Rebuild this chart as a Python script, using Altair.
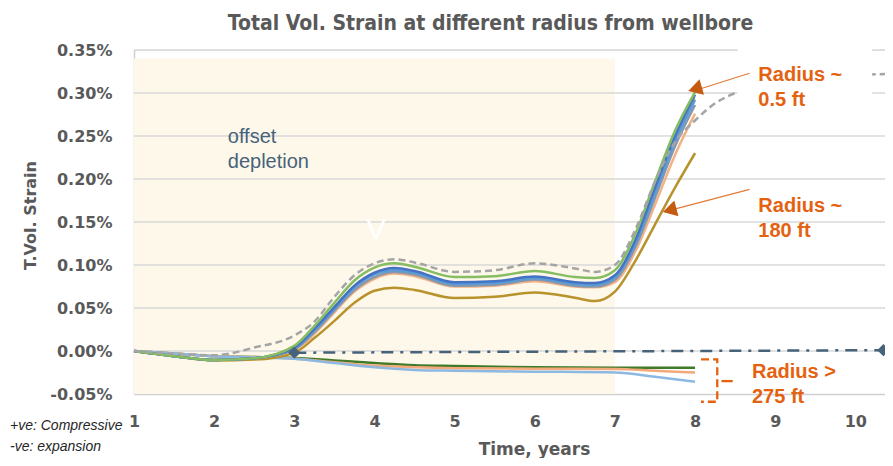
import altair as alt
import pandas as pd

# ---------------- data (values in %) ----------------
t_near = [1, 1.5, 2, 2.5, 3, 3.25, 3.5, 3.75, 4, 4.25, 4.5, 5, 5.5, 6, 6.5, 6.75, 7, 7.25, 7.5, 7.75, 8]
near_green = [0, -0.006, -0.0105, -0.0085, 0.006, 0.029, 0.056, 0.082, 0.097, 0.102, 0.098, 0.086, 0.087, 0.093, 0.086, 0.085, 0.094, 0.135, 0.197, 0.256, 0.301]
near_blue = [0, -0.006, -0.0105, -0.0085, 0.004, 0.026, 0.051, 0.076, 0.091, 0.0965, 0.093, 0.080, 0.081, 0.0865, 0.080, 0.079, 0.088, 0.128, 0.190, 0.250, 0.298]
near_steel = [0, -0.006, -0.0105, -0.0085, 0.003, 0.024, 0.049, 0.074, 0.089, 0.094, 0.091, 0.078, 0.079, 0.0845, 0.078, 0.077, 0.086, 0.124, 0.184, 0.244, 0.292]
near_slate = [0, -0.006, -0.0105, -0.0085, 0.002, 0.022, 0.047, 0.071, 0.086, 0.092, 0.089, 0.076, 0.077, 0.083, 0.076, 0.075, 0.083, 0.120, 0.178, 0.238, 0.286]
near_orange = [0, -0.006, -0.0105, -0.0085, 0.001, 0.020, 0.045, 0.069, 0.084, 0.090, 0.087, 0.075, 0.076, 0.081, 0.075, 0.074, 0.080, 0.115, 0.170, 0.228, 0.276]
near_gold = [0, -0.006, -0.0105, -0.0085, 0.003, 0.024, 0.049, 0.074, 0.089, 0.094, 0.091, 0.078, 0.079, 0.085, 0.078, 0.077, 0.086, 0.124, 0.185, 0.245, 0.294]
r180_gold = [0, -0.006, -0.011, -0.010, -0.002, 0.015, 0.035, 0.056, 0.070, 0.0735, 0.071, 0.0616, 0.063, 0.068, 0.062, 0.058, 0.069, 0.104, 0.147, 0.190, 0.230]

t_dash = [1, 1.5, 2, 2.5, 3, 3.25, 3.5, 3.75, 4, 4.25, 4.5, 5, 5.5, 6, 6.5, 6.75, 7, 7.25, 7.5, 7.75, 8, 8.25, 8.5, 9, 9.5, 10, 10.37]
dashed_gray = [0, -0.003, -0.005, 0.004, 0.018, 0.034, 0.063, 0.088, 0.102, 0.1066, 0.103, 0.092, 0.094, 0.102, 0.096, 0.092, 0.100, 0.140, 0.197, 0.243, 0.268, 0.288, 0.300, 0.312, 0.318, 0.321, 0.322]

t_far = [1, 1.5, 2, 2.5, 3, 3.5, 4, 4.5, 5, 6, 7, 7.5, 8]
far_green = [0, -0.003, -0.006, -0.007, -0.008, -0.011, -0.014, -0.0165, -0.0175, -0.019, -0.0195, -0.0195, -0.0194]
far_orange = [0, -0.003, -0.006, -0.007, -0.009, -0.013, -0.017, -0.019, -0.020, -0.0205, -0.021, -0.023, -0.025]
far_blue = [0, -0.003, -0.006, -0.0075, -0.009, -0.014, -0.019, -0.022, -0.023, -0.024, -0.025, -0.030, -0.0357]

ref_t = [3, 10.35]
ref_v = [-0.002, 0.001]

x_ticks = [1, 2, 3, 4, 5, 6, 7, 8, 9, 10]
y_ticks = [-0.05, 0.0, 0.05, 0.10, 0.15, 0.20, 0.25, 0.30, 0.35]
grid_vals = [0.0, 0.05, 0.10, 0.15, 0.20, 0.25, 0.30, 0.35]
shade_t = [1, 7]
shade_v = [-0.05, 0.34]

# ---------------- tables ----------------
series_names = ["fgreen", "forange", "fblue", "r180", "orange", "slate", "gold", "steel", "blue", "green"]
series_colors = ["#3F7A2A", "#F4A97A", "#8DB8E2", "#B8922A", "#F4B183", "#8497B0", "#E8B730", "#5B9BD5", "#4472C4", "#86BC62"]
series_widths = [2.5, 2.5, 2.5, 2.5, 2.5, 2.5, 1.3, 2.5, 2.5, 2.5]
series_t = [t_far, t_far, t_far, t_near, t_near, t_near, t_near, t_near, t_near, t_near]
series_vals = [far_green, far_orange, far_blue, r180_gold, near_orange, near_slate, near_gold, near_steel, near_blue, near_green]

rows = []
for n, ts, vals, w in zip(series_names, series_t, series_vals, series_widths):
    for t, v in zip(ts, vals):
        rows.append({"t": t, "v": v, "s": n, "w": w})
df_lines = pd.DataFrame(rows)

df_dash = pd.DataFrame({"t": t_dash, "v": dashed_gray})
df_ref = pd.DataFrame({"t": ref_t, "v": ref_v})
df_grid = pd.DataFrame({"g": grid_vals})

# ---------------- scales / axes ----------------
FONT = "DejaVu Sans"
GRAY = "#595959"
ORANGE = "#E4620F"
XSC = alt.Scale(domain=[1, 10.37], nice=False, zero=False)
YSC = alt.Scale(domain=[-0.05, 0.35], nice=False, zero=False)
XAX = alt.Axis(values=x_ticks, title="Time, years", grid=False, ticks=False,
               domainColor="#D0D0D0", domainWidth=1.5,
               labelFont=FONT, labelFontSize=16, labelFontWeight="bold", labelColor=GRAY,
               labelPadding=19, labelFlush=False,
               titleFont=FONT, titleFontSize=17, titleFontWeight="bold", titleColor=GRAY,
               titleX=400, titleY=55, titleBaseline="middle", titleAlign="center")
YAX = alt.Axis(values=y_ticks, title="T.Vol. Strain", grid=False, ticks=False,
               labelExpr="replace(format(datum.value, '.2f'), '\u2212', '-') + '%'",
               domainColor="#D0D0D0", domainWidth=1.5,
               labelFont=FONT, labelFontSize=16, labelFontWeight="bold", labelColor=GRAY,
               labelPadding=22,
               titleFont=FONT, titleFontSize=16, titleFontWeight="bold", titleColor=GRAY,
               titleX=-104, titleY=165, titleBaseline="middle", titleAlign="center", titleAngle=270)


def X(field=None, datum=None):
    if datum is not None:
        return alt.X(datum=datum, type="quantitative", scale=XSC, axis=XAX)
    return alt.X(field, type="quantitative", scale=XSC, axis=XAX)


def Y(field=None, datum=None):
    if datum is not None:
        return alt.Y(datum=datum, type="quantitative", scale=YSC, axis=YAX)
    return alt.Y(field, type="quantitative", scale=YSC, axis=YAX)


# ---------------- layers ----------------
shade = alt.Chart(pd.DataFrame({"a": [0]})).mark_rect(color="#FEF8EA").encode(
    x=X(datum=shade_t[0]), x2=alt.X2(datum=shade_t[1]),
    y=Y(datum=shade_v[0]), y2=alt.Y2(datum=shade_v[1]))

grid = alt.Chart(df_grid).mark_rule(color="#D9D9D9", strokeWidth=1.3).encode(y=Y("g"))

ref_line = alt.Chart(df_ref).mark_line(color="#46637A", strokeWidth=2.5, strokeDash=[12, 7, 3, 7]).encode(
    x=X("t"), y=Y("v"))
ref_pts = alt.Chart(df_ref).mark_point(shape="diamond", filled=True, color="#46637A", size=150, opacity=1).encode(
    x=X("t"), y=Y("v"))

lines = alt.Chart(df_lines).mark_line(interpolate="monotone").encode(
    x=X("t"), y=Y("v"),
    color=alt.Color("s:N", scale=alt.Scale(domain=series_names, range=series_colors), legend=None),
    strokeWidth=alt.StrokeWidth("w:Q", scale=None))

dash = alt.Chart(df_dash).mark_line(color="#A5A5A5", strokeWidth=2.5, strokeDash=[7, 4], interpolate="monotone").encode(
    x=X("t"), y=Y("v"))

white_box = alt.Chart(pd.DataFrame({"a": [0]})).mark_rect(color="white").encode(
    x=X(datum=8.53), x2=alt.X2(datum=10.21), y=Y(datum=0.297), y2=alt.Y2(datum=0.352))

arrows = alt.Chart(pd.DataFrame({"x": [8.68, 8.68], "y": [0.323, 0.188], "x2": [7.97, 7.66], "y2": [0.302, 0.163]})).mark_rule(
    color="#E07B39", strokeWidth=1.2).encode(x=X("x"), y=Y("y"), x2="x2:Q", y2="y2:Q")
heads = alt.Chart(pd.DataFrame({"x": [8.0, 7.683], "y": [0.3047, 0.1637], "a": [254, 255]})).mark_point(
    shape="triangle-up", filled=True, color="#C55A11", size=260, opacity=1).encode(
    x=X("x"), y=Y("y"), angle=alt.Angle("a:Q", scale=None))

bracket = alt.Chart(pd.DataFrame({"x": [8.075, 8.277, 8.277, 8.075], "y": [-0.0097, -0.0097, -0.059, -0.059], "o": [0, 1, 2, 3]})).mark_line(
    color=ORANGE, strokeWidth=2.3, strokeDash=[8, 4]).encode(x=X("x"), y=Y("y"), order="o:Q")
bracket_tick = alt.Chart(pd.DataFrame({"x": [8.33, 8.47], "y": [-0.035, -0.035]})).mark_line(
    color=ORANGE, strokeWidth=2.3).encode(x=X("x"), y=Y("y"))

radius_txt = alt.Chart(pd.DataFrame({
    "x": [8.79, 8.79, 8.71],
    "y": [0.3134, 0.162, -0.0315],
    "txt": [["Radius ~", "0.5 ft"], ["Radius ~", "180 ft"], ["Radius >", "275 ft"]],
})).mark_text(align="left", baseline="alphabetic", font="Liberation Sans", fontSize=20, fontWeight="bold",
              color=ORANGE, lineHeight=25).encode(x=X("x"), y=Y("y"), text="txt")

offset_txt = alt.Chart(pd.DataFrame({"x": [2.17], "y": [0.2415], "txt": [["offset", "depletion"]]})).mark_text(
    align="left", baseline="alphabetic", font="Liberation Sans", fontSize=20, color="#46637A", lineHeight=25).encode(
    x=X("x"), y=Y("y"), text="txt")

v_txt = alt.Chart(pd.DataFrame({"x": [4.02], "y": [0.141], "txt": ["V"]})).mark_text(
    align="center", baseline="middle", font="Liberation Sans", fontSize=30, color="white").encode(
    x=X("x"), y=Y("y"), text="txt")

note_txt = alt.Chart(pd.DataFrame({"txt": [["+ve: Compressive", "-ve: expansion"]]})).mark_text(
    align="left", baseline="middle", font="Liberation Sans", fontSize=14, fontStyle="italic", color="#262626",
    lineHeight=21).encode(x=alt.value(-124), y=alt.value(376), text="txt")

chart = alt.layer(
    shade, grid, ref_line, lines, dash, ref_pts, white_box, arrows, heads, bracket, bracket_tick,
    radius_txt, offset_txt, v_txt, note_txt
).properties(
    width=751, height=344,
    title=alt.TitleParams("Total Vol. Strain at different radius from wellbore", font="DejaVu Sans Condensed, DejaVu Sans",
                          fontSize=21, fontWeight="bold", color=GRAY, anchor="middle", dx=-19, offset=8),
    autosize=alt.AutoSizeParams(type="none"),
    padding={"left": 126, "top": 42, "right": 0, "bottom": 64},
).configure_view(stroke=None).configure(background="white")

chart.save("out.html", embed_options={"renderer": "svg", "actions": False})
